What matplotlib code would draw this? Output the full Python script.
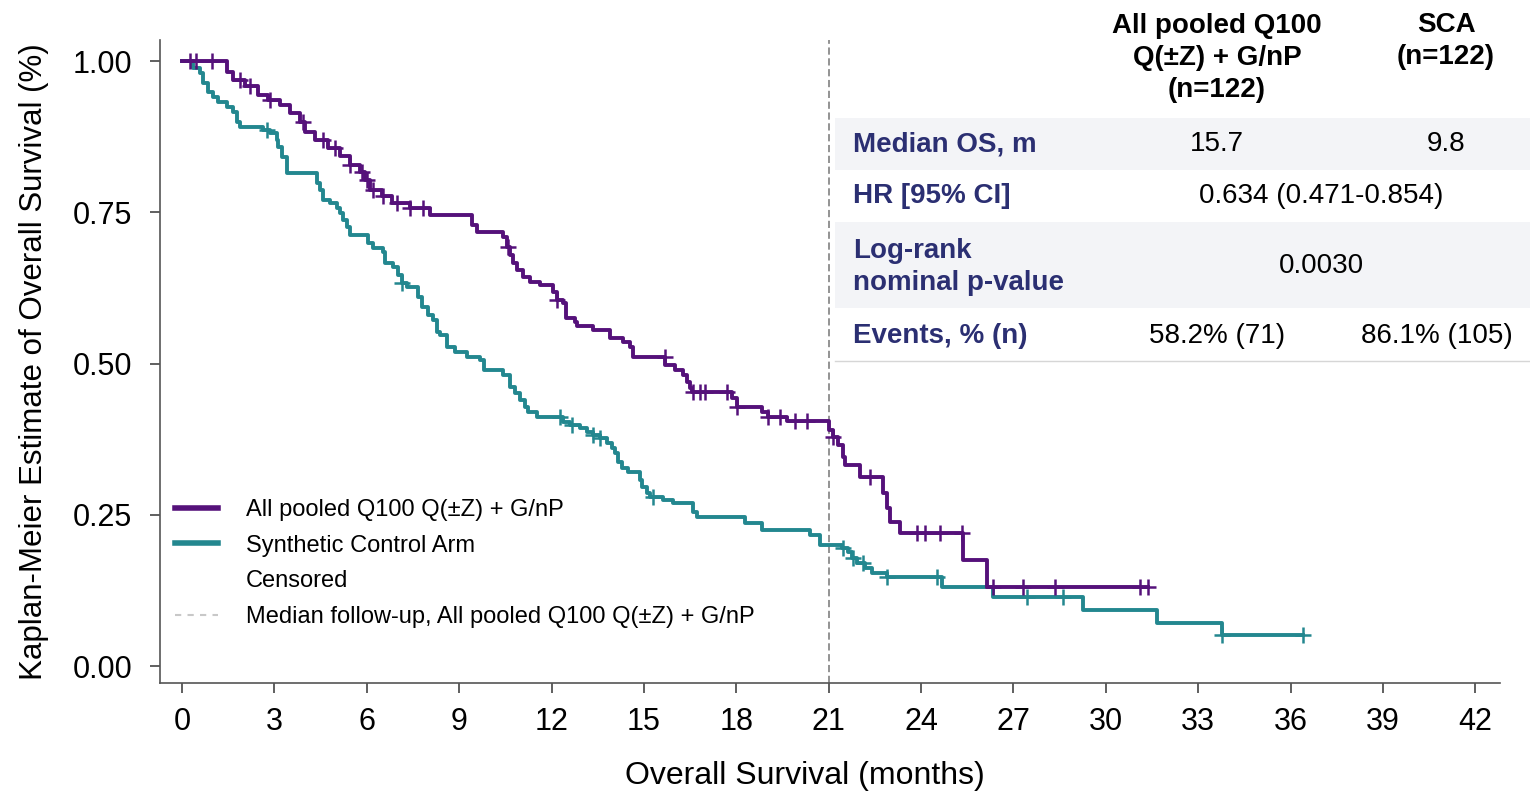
import matplotlib
matplotlib.use("Agg")
import matplotlib.pyplot as plt
import numpy as np
from matplotlib.lines import Line2D
from matplotlib.patches import Rectangle

plt.rcParams["font.family"] = ["Liberation Sans", "DejaVu Sans"]

# Kaplan-Meier step knots: (time in months, survival after the drop)
pooled_t = [0, 1.46, 1.66, 2.05, 2.47, 2.79, 3.18, 3.51, 3.83, 4.0, 4.32, 4.74, 5.13, 5.46,
            5.78, 5.94, 6.11, 6.5, 6.82, 7.4, 8.05, 9.42, 9.58, 10.43, 10.56, 10.65, 10.75,
            10.88, 11.07, 11.3, 11.63, 12.05, 12.18, 12.37, 12.47, 12.76, 12.83, 13.35, 13.9,
            14.32, 14.55, 14.65, 15.7, 16.01, 16.27, 16.4, 16.5, 16.56, 17.86, 18.03, 18.84,
            19.03, 19.65, 21.01, 21.14, 21.3, 21.47, 21.53, 22.02, 22.77, 22.9, 23.0, 23.32,
            25.37, 26.14]
pooled_s = [1.0, 0.982, 0.969, 0.959, 0.944, 0.936, 0.927, 0.914, 0.899, 0.883, 0.869, 0.856,
            0.843, 0.828, 0.817, 0.803, 0.787, 0.777, 0.765, 0.757, 0.745, 0.729, 0.717, 0.709,
            0.693, 0.679, 0.666, 0.655, 0.643, 0.635, 0.630, 0.618, 0.605, 0.600, 0.575, 0.569,
            0.562, 0.555, 0.542, 0.536, 0.527, 0.511, 0.498, 0.490, 0.481, 0.469, 0.460, 0.453,
            0.443, 0.428, 0.420, 0.412, 0.405, 0.390, 0.379, 0.365, 0.345, 0.332, 0.312, 0.286,
            0.262, 0.238, 0.220, 0.175, 0.131]
pooled_end = 31.37
pooled_cens = [0.26, 0.45, 0.97, 1.88, 2.21, 2.86, 3.93, 4.58, 4.97, 5.46, 5.85, 6.01, 6.2,
               6.53, 6.98, 7.41, 7.83, 10.59, 12.18, 15.69, 16.6, 16.83, 16.99, 17.7, 18.03,
               19.03, 19.42, 19.91, 20.3, 21.14, 22.34, 23.87, 24.13, 24.62, 25.33, 26.34,
               27.31, 28.35, 31.11, 31.37]

sca_t = [0, 0.36, 0.58, 0.68, 0.84, 1.01, 1.17, 1.46, 1.66, 1.79, 1.88, 2.63, 2.86, 3.09, 3.12,
         3.25, 3.41, 4.38, 4.48, 4.58, 4.81, 5.03, 5.13, 5.23, 5.36, 5.46, 6.04, 6.2, 6.53, 6.59,
         6.85, 7.02, 7.15, 7.31, 7.66, 7.79, 7.99, 8.15, 8.28, 8.38, 8.61, 8.87, 9.26, 9.68, 9.8,
         10.43, 10.65, 10.82, 10.98, 11.14, 11.24, 11.53, 12.37, 12.6, 12.93, 13.15, 13.35,
         13.58, 13.8, 13.97, 14.06, 14.16, 14.29, 14.49, 14.87, 14.94, 15.1, 15.2, 15.62, 15.95,
         16.6, 16.73, 18.29, 18.84, 20.4, 20.72, 21.44, 21.63, 21.76, 21.92, 22.18, 22.41, 22.9,
         24.68, 26.34, 29.26, 31.67, 33.78]
sca_s = [1.0, 0.988, 0.98, 0.964, 0.949, 0.94, 0.932, 0.924, 0.916, 0.899, 0.891, 0.886, 0.881,
         0.869, 0.858, 0.841, 0.815, 0.798, 0.787, 0.770, 0.765, 0.757, 0.749, 0.737, 0.726,
         0.712, 0.699, 0.691, 0.684, 0.666, 0.660, 0.646, 0.633, 0.626, 0.610, 0.593, 0.580,
         0.572, 0.552, 0.547, 0.527, 0.519, 0.511, 0.506, 0.489, 0.481, 0.461, 0.451, 0.440,
         0.428, 0.420, 0.412, 0.403, 0.398, 0.393, 0.387, 0.382, 0.377, 0.369, 0.360, 0.352,
         0.337, 0.327, 0.321, 0.307, 0.296, 0.286, 0.279, 0.274, 0.269, 0.255, 0.246, 0.236,
         0.225, 0.217, 0.200, 0.195, 0.188, 0.179, 0.170, 0.162, 0.154, 0.147, 0.131, 0.114,
         0.093, 0.071, 0.051]
sca_end = 36.41
sca_cens = [2.76, 7.15, 12.28, 12.67, 13.35, 13.58, 15.3, 21.47, 21.79, 22.12, 22.9, 24.52,
            27.44, 28.61, 33.78, 36.41]

x_ticks = list(range(0, 43, 3))
y_ticks = [0.0, 0.25, 0.5, 0.75, 1.0]
median_followup = 21

table_rows = ["Median OS, m", "HR [95% CI]", "Log-rank\nnominal p-value", "Events, % (n)"]

PURPLE = "#55117a"
TEAL = "#23878f"
NAVY = "#2b2f72"

W, H = 1530, 792
fig = plt.figure(figsize=(W / 100, H / 100), dpi=100)


def fx(px):
    return px / W


def fy(py):
    return 1 - py / H


ax = fig.add_axes([fx(160), fy(683), fx(1500) - fx(160), fy(40) - fy(683)])


def draw_km(t, s, end, cens, color):
    tt = list(t) + [end]
    ss = list(s) + [s[-1]]
    ax.step(tt, ss, where="post", color=color, linewidth=2.8, zorder=3)
    idx = np.searchsorted(t, cens, side="right") - 1
    ax.plot(cens, np.asarray(s)[idx], linestyle="none", marker="+", markersize=12,
            markeredgewidth=1.8, color=color, zorder=4)


draw_km(sca_t, sca_s, sca_end, sca_cens, TEAL)
draw_km(pooled_t, pooled_s, pooled_end, pooled_cens, PURPLE)

ax.axvline(median_followup, color="#8a8a8a", linestyle=(0, (4, 2)), linewidth=1.3, zorder=2)

ax.set_xlim(-0.714, 42.8)
ax.set_ylim(-0.028, 1.035)
ax.set_xticks(x_ticks)
ax.set_yticks(y_ticks)
ax.set_yticklabels([f"{v:.2f}" for v in y_ticks])
ax.tick_params(axis="both", labelsize=22, length=7, width=1.2, color="#444444")
ax.tick_params(axis="x", pad=10)
ax.tick_params(axis="y", pad=13)
for side in ("top", "right"):
    ax.spines[side].set_visible(False)
for side in ("left", "bottom"):
    ax.spines[side].set_color("#555555")
    ax.spines[side].set_linewidth(1.2)
ax.set_xlabel("Overall Survival (months)", fontsize=23)
ax.xaxis.set_label_coords(0.481, -0.122)
ax.set_ylabel("Kaplan-Meier Estimate of Overall Survival (%)", fontsize=22.5, labelpad=17)

handles = [
    Line2D([], [], color=PURPLE, linewidth=4),
    Line2D([], [], color=TEAL, linewidth=4),
    Line2D([], [], linestyle="none"),
    Line2D([], [], color="#c8c8c8", linestyle=(0, (3, 3)), linewidth=1.5),
]
labels = ["All pooled Q100 Q(\u00b1Z) + G/nP", "Synthetic Control Arm", "Censored",
          "Median follow-up, All pooled Q100 Q(\u00b1Z) + G/nP"]
ax.legend(handles, labels, loc="lower left", bbox_to_anchor=(fx(166) - fx(160), 0.071),
          frameon=False, fontsize=17, handlelength=1.85, handletextpad=1.15,
          labelspacing=0.58, borderaxespad=0)

# summary table in the upper right
for y0, y1 in [(118, 170), (222, 308)]:
    fig.patches.append(Rectangle((fx(835), fy(y1)), fx(1530) - fx(835), fy(y0) - fy(y1),
                                 transform=fig.transFigure, facecolor="#f3f4f7",
                                 edgecolor="none", zorder=1))
fig.add_artist(Line2D([fx(835), fx(1530)], [fy(361), fy(361)], color="#d6d6d6", linewidth=1))

hdr = dict(fontsize=20, fontweight="bold", color="black", ha="center", va="center",
           linespacing=1.32)
fig.text(fx(1217), fy(58), "All pooled Q100\nQ(\u00b1Z) + G/nP\n(n=122)", **hdr)
fig.text(fx(1446), fy(41), "SCA\n(n=122)", **hdr)

lab = dict(fontsize=20, fontweight="bold", color=NAVY, ha="left", va="center",
           linespacing=1.35)
for text, ypx in zip(table_rows, [144, 196, 267, 336]):
    fig.text(fx(853), fy(ypx), text, **lab)

val = dict(fontsize=20, color="black", ha="center", va="center")
fig.text(fx(1217), fy(144), "15.7", **val)
fig.text(fx(1446), fy(144), "9.8", **val)
fig.text(fx(1321), fy(196), "0.634 (0.471-0.854)", **val)
fig.text(fx(1321), fy(266), "0.0030", **val)
fig.text(fx(1217), fy(336), "58.2% (71)", **val)
fig.text(fx(1437), fy(336), "86.1% (105)", **val)

fig.savefig("out.png", dpi=100)
